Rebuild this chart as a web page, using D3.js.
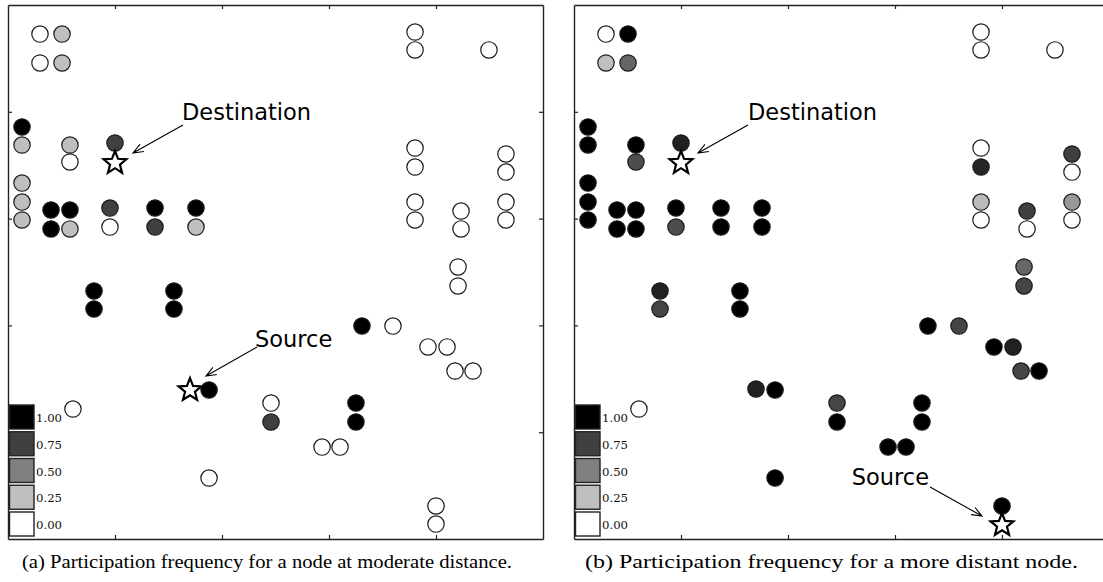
<!DOCTYPE html>
<html>
<head>
<meta charset="utf-8">
<script src="https://cdn.jsdelivr.net/npm/d3@7"></script>
<style>
  body { margin: 0; background: #fff; }
  svg { display: block; }
</style>
</head>
<body>
<svg id="fig" width="1103" height="582"></svg>
<script>
// Node layout (field coordinates, 0..500 on both axes), shared by both panels
const nodeX = [29.9, 50.5, 29.9, 50.5, 13.1, 13.1, 57.9, 57.9, 100.0, 13.1,
               13.1, 13.1, 40.2, 57.9, 40.2, 57.9, 95.3, 95.3, 137.4, 137.4,
               175.7, 175.7, 380.4, 380.4, 449.5, 380.4, 380.4, 380.4, 380.4, 423.4,
               423.4, 465.4, 465.4, 465.4, 465.4, 80.4, 80.4, 155.1, 155.1, 187.9,
               170.1, 60.7, 245.8, 245.8, 187.9, 420.6, 420.6, 330.8, 359.8, 392.5,
               410.3, 417.8, 434.6, 325.2, 325.2, 293.5, 310.3, 400.0, 400.0];
const nodeY = [472.8, 472.8, 445.7, 445.7, 385.8, 368.9, 368.9, 353.0, 370.8, 333.3,
               315.5, 298.7, 308.1, 308.1, 290.3, 290.3, 309.9, 292.1, 309.9, 292.1,
               309.9, 292.1, 474.7, 457.9, 457.9, 366.1, 348.3, 315.5, 298.7, 307.1,
               290.3, 360.5, 343.6, 315.5, 298.7, 232.2, 215.4, 232.2, 215.4, 139.5,
               140.4, 121.7, 127.3, 109.6, 57.1, 254.7, 236.9, 199.4, 199.4, 179.8,
               179.8, 157.3, 157.3, 127.3, 109.6, 86.1, 86.1, 30.9, 14.0];

// Participation frequency per node; null marks the node acting as source
const freqA = [0, 0.25, 0, 0.25, 1, 0.25, 0.25, 0, 0.75, 0.25,
               0.25, 0.25, 1, 1, 1, 0.25, 0.75, 0, 1, 0.75,
               1, 0.25, 0, 0, 0, 0, 0, 0, 0, 0,
               0, 0, 0, 0, 0, 1, 1, 1, 1, 1,
               null, 0, 0, 0.75, 0, 0, 0, 1, 0, 0,
               0, 0, 0, 1, 1, 0, 0, 0, 0];
const freqB = [0, 1, 0.25, 0.6, 1, 1, 1, 0.7, 0.87, 1,
               1, 1, 1, 1, 1, 1, 1, 0.7, 1, 1,
               1, 1, 0, 0, 0, 0, 0.85, 0.27, 0, 0.75,
               0, 0.75, 0, 0.4, 0, 0.87, 0.73, 1, 1, 1,
               0.87, 0, 0.73, 1, 1, 0.6, 0.73, 1, 0.73, 1,
               0.87, 0.73, 1, 1, 1, 1, 1, 1, null];

const destination = [100.0, 353.0];
const sourceA = [170.1, 140.4];
const sourceB = [400.0, 14.0];

const legendValues = [1, 0.75, 0.5, 0.25, 0];
const legendLabels = ["1.00", "0.75", "0.50", "0.25", "0.00"];
const tickValues = [100, 200, 300, 400];

const captions = [
  "(a) Participation frequency for a node at moderate distance.",
  "(b) Participation frequency for a more distant node."
];

// ---- drawing ----
const svg = d3.select("#fig");
const W = 535, H = 534;
const x = d3.scaleLinear().domain([0, 500]).range([0, W]);
const y = d3.scaleLinear().domain([0, 500]).range([H, 0]);
const shade = d3.scaleLinear().domain([0, 1]).range(["#ffffff", "#000000"]);

function starPath(R, r) {
  const pts = [];
  for (let i = 0; i < 10; i++) {
    const a = -Math.PI / 2 + i * Math.PI / 5;
    const rad = i % 2 === 0 ? R : r;
    pts.push([rad * Math.cos(a), rad * Math.sin(a)]);
  }
  return d3.line()(pts) + "Z";
}

function arrow(g, tail, tip) {
  const ang = Math.atan2(tip[1] - tail[1], tip[0] - tail[0]);
  const L = 11, spread = 0.38;
  const b1 = [tip[0] - L * Math.cos(ang - spread), tip[1] - L * Math.sin(ang - spread)];
  const b2 = [tip[0] - L * Math.cos(ang + spread), tip[1] - L * Math.sin(ang + spread)];
  g.append("path")
    .attr("d", `M${tail[0]},${tail[1]}L${tip[0]},${tip[1]}M${b1[0]},${b1[1]}L${tip[0]},${tip[1]}L${b2[0]},${b2[1]}`)
    .attr("fill", "none").attr("stroke", "#000").attr("stroke-width", 1.1);
}

function panel(x0, freq, src, notes) {
  const g = svg.append("g").attr("transform", `translate(${x0},5)`);

  // frame with inward ticks on all four sides
  const frame = [
    [d3.axisTop(x), 0, 0],
    [d3.axisBottom(x), 0, H],
    [d3.axisLeft(y), 0, 0],
    [d3.axisRight(y), W, 0]
  ];
  frame.forEach(([ax, tx, ty]) => {
    const a = g.append("g").attr("transform", `translate(${tx},${ty})`)
      .call(ax.tickValues(tickValues).tickSizeInner(-4).tickSizeOuter(0).tickFormat(""));
    a.select(".domain").attr("stroke", "#222").attr("stroke-width", 1.4);
    a.selectAll(".tick line").attr("stroke", "#222").attr("stroke-width", 1.2);
  });

  // nodes
  const idx = d3.range(nodeX.length).filter(i => freq[i] !== null);
  g.append("g").selectAll("circle").data(idx).join("circle")
    .attr("cx", i => x(nodeX[i]))
    .attr("cy", i => y(nodeY[i]))
    .attr("r", 8.2)
    .attr("fill", i => shade(freq[i]))
    .attr("stroke", "#1a1a1a")
    .attr("stroke-width", 1.2);

  // source and destination stars
  [destination, src].forEach(p => {
    g.append("path")
      .attr("d", starPath(12, 5.2))
      .attr("transform", `translate(${x(p[0])},${y(p[1]) + 1})`)
      .attr("fill", "#fff").attr("stroke", "#000").attr("stroke-width", 2.2)
      .attr("stroke-linejoin", "miter");
  });

  // annotations
  notes.forEach(n => {
    const px = x(n.at[0]), py = y(n.at[1]);
    arrow(g, [px + n.tail[0], py + n.tail[1]], [px + n.tip[0], py + n.tip[1]]);
    g.append("text")
      .attr("x", px + n.text[0]).attr("y", py + n.text[1])
      .attr("text-anchor", n.anchor)
      .attr("font-family", "DejaVu Sans, sans-serif")
      .attr("font-size", 22.5)
      .attr("fill", "#000")
      .text(n.label);
  });

  // legend
  const lg = g.append("g").attr("transform", "translate(1,400)");
  legendValues.forEach((v, i) => {
    const yy = i * 26.75;
    lg.append("rect").attr("x", 0.5).attr("y", yy).attr("width", 24.5).attr("height", 24)
      .attr("fill", shade(v)).attr("stroke", "#222").attr("stroke-width", 1.4);
    lg.append("text").attr("x", 27).attr("y", yy + 17)
      .attr("font-family", "DejaVu Serif, serif").attr("font-size", 11.7)
      .attr("fill", "#111").text(legendLabels[i]);
  });
}

panel(8, freqA, sourceA, [
  { label: "Destination", at: destination, tail: [68, -37], tip: [18, -9], text: [67, -42], anchor: "start" },
  { label: "Source", at: sourceA, tail: [67, -42], tip: [16, -13], text: [65, -42], anchor: "start" }
]);
panel(574, freqB, sourceB, [
  { label: "Destination", at: destination, tail: [67, -37], tip: [17, -9], text: [67, -42], anchor: "start" },
  { label: "Source", at: sourceB, tail: [-72, -37], tip: [-20, -8], text: [-73, -39], anchor: "end" }
]);

// captions
const capX = [22, 585], capW = [490, 493];
captions.forEach((c, i) => {
  svg.append("text")
    .attr("x", capX[i]).attr("y", 568)
    .attr("font-family", "Liberation Serif, serif")
    .attr("font-size", 19.5)
    .attr("textLength", capW[i])
    .attr("lengthAdjust", "spacingAndGlyphs")
    .attr("fill", "#000")
    .text(c);
});
</script>
</body>
</html>
